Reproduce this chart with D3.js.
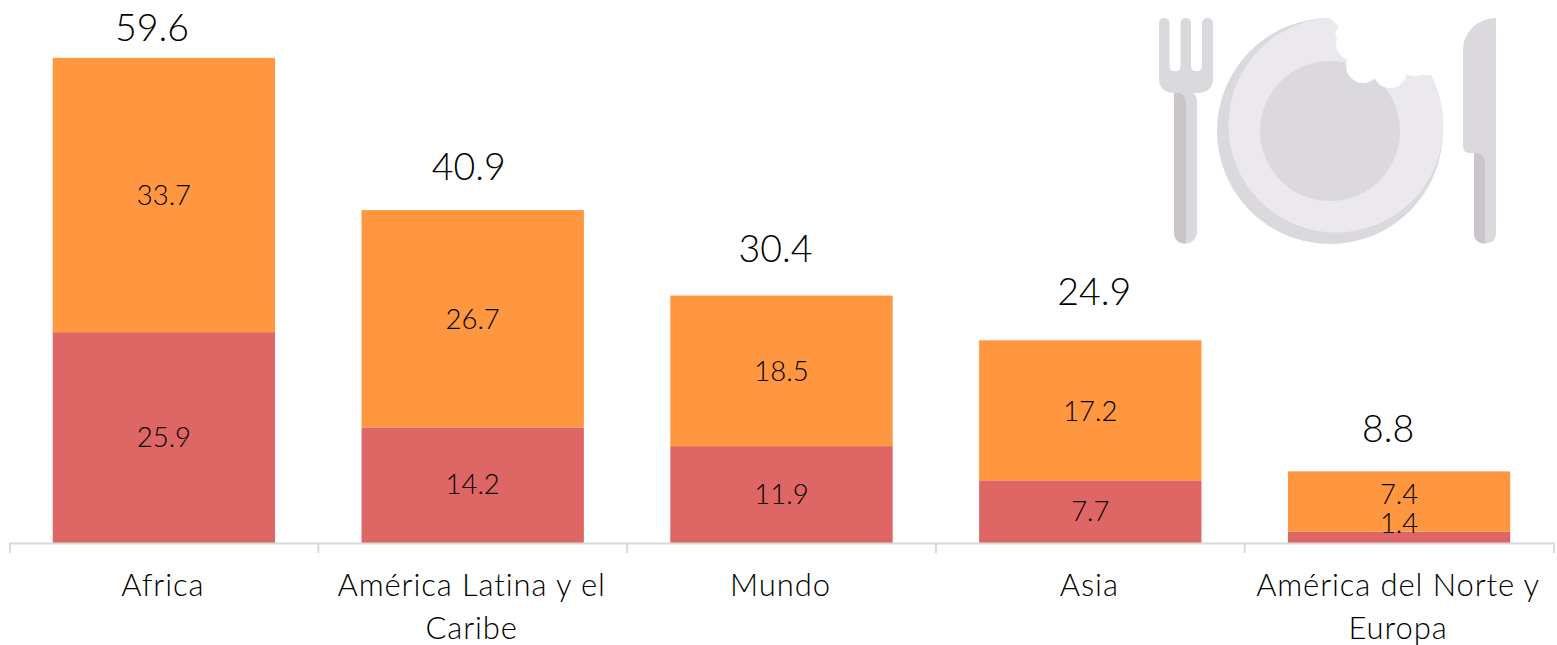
<!DOCTYPE html>
<html>
<head>
<meta charset="utf-8">
<script src="https://cdn.jsdelivr.net/npm/d3@7"></script>
<style>
    html, body { margin: 0; padding: 0; background: #fff; }
    svg { display: block; }
    text { font-family: Lato, "Noto Sans", sans-serif; fill: #000; }
</style>
</head>
<body>
<svg id="chart"></svg>
<script>
const categories = ['Africa', 'América Latina y el Caribe', 'Mundo', 'Asia', 'América del Norte y Europa'];
const categoryLines = [['Africa'], ['América Latina y el', 'Caribe'], ['Mundo'], ['Asia'], ['América del Norte y', 'Europa']];
const severe = [25.9, 14.2, 11.9, 7.7, 1.4];
const moderate = [33.7, 26.7, 18.5, 17.2, 7.4];
const totals = [59.6, 40.9, 30.4, 24.9, 8.8];

// hand placed labels in the original, offsets from the default spot
const totalNudgeX = [-12, -4, -6, 4, -11];
const totalNudgeY = [0, -14, -17, -19, -13];
const severeNudgeY = [0, -1, 0, -1, -14];
const moderateNudgeY = [0, 0, 0, 1, -7];

const width = 1557, height = 645;
const axisY = 543;
const colors = {severe: '#de6766', moderate: '#ff9640'};

const svg = d3.select('#chart').attr('width', width).attr('height', height);

const xScale = d3.scaleBand()
    .domain(categories)
    .range([9.5, 1553.5])
    .paddingInner(0.28)
    .paddingOuter(0.14);

const yScale = d3.scaleLinear()
    .domain([0, 60])
    .range([axisY, axisY - 60 * 8.14]);

const rows = categories.map((c, i) => ({category: c, index: i, severe: severe[i], moderate: moderate[i], total: totals[i]}));
const stacked = d3.stack().keys(['severe', 'moderate'])(rows);
const segNudge = {severe: severeNudgeY, moderate: moderateNudgeY};

// bars
svg.selectAll('g.layer')
    .data(stacked)
    .join('g')
    .attr('class', 'layer')
    .attr('fill', d => colors[d.key])
    .selectAll('rect')
    .data(d => d)
    .join('rect')
    .attr('x', d => xScale(d.data.category))
    .attr('y', d => yScale(d[1]))
    .attr('width', xScale.bandwidth())
    .attr('height', d => yScale(d[0]) - yScale(d[1]));

// x axis, the band edges carry the ticks
const xAxis = d3.axisBottom(xScale).tickSize(0).tickSizeOuter(10).tickFormat('');
const xAxisG = svg.append('g')
    .attr('transform', `translate(0,${axisY})`)
    .call(xAxis);
xAxisG.select('.domain').attr('stroke', '#d9d9d9').attr('stroke-width', 2);
xAxisG.selectAll('.tick').remove();
xAxisG.selectAll('line.edge')
    .data(categories.slice(1))
    .join('line')
    .attr('class', 'edge')
    .attr('x1', d => xScale(d) - xScale.step() * 0.14)
    .attr('x2', d => xScale(d) - xScale.step() * 0.14)
    .attr('y1', 0)
    .attr('y2', 10)
    .attr('stroke', '#d9d9d9')
    .attr('stroke-width', 2);

// labels inside the segments
svg.selectAll('g.seg-labels')
    .data(stacked)
    .join('g')
    .attr('class', 'seg-labels')
    .selectAll('text')
    .data(d => d.map(s => ({s: s, key: d.key})))
    .join('text')
    .attr('x', d => xScale(d.s.data.category) + xScale.bandwidth() / 2)
    .attr('y', d => yScale((d.s[0] + d.s[1]) / 2) + segNudge[d.key][d.s.data.index])
    .attr('dy', '0.36em')
    .attr('text-anchor', 'middle')
    .style('font-size', '27.5px')
    .style('font-weight', 300)
    .text(d => d.s.data[d.key].toFixed(1));

// totals above the bars
svg.selectAll('text.total')
    .data(rows)
    .join('text')
    .attr('class', 'total')
    .attr('x', d => xScale(d.category) + xScale.bandwidth() / 2 + totalNudgeX[d.index])
    .attr('y', d => yScale(d.total) - 30 + totalNudgeY[d.index])
    .attr('dy', '0.36em')
    .attr('text-anchor', 'middle')
    .style('font-size', '37.5px')
    .style('font-weight', 300)
    .text(d => d.total.toFixed(1));

svg.selectAll('text.cat')
    .data(categories)
    .join('text')
    .attr('class', 'cat')
    .attr('text-anchor', 'middle')
    .style('font-size', '31px')
    .style('font-weight', 300)
    .style('letter-spacing', '0.9px')
    .each(function(d, i) {
        d3.select(this).selectAll('tspan')
            .data(categoryLines[i])
            .join('tspan')
            .attr('x', xScale(d) + xScale.bandwidth() / 2 - 1)
            .attr('y', (l, j) => 596 + j * 43)
            .text(l => l);
    });

// plate and cutlery icon
const icon = svg.append('g');
const rounded = (x, y, w, h, r, fill) => icon.append('rect')
    .attr('x', x).attr('y', y).attr('width', w).attr('height', h).attr('rx', r).attr('fill', fill);

// fork
rounded(1159, 18, 10.5, 60, 5, '#dbd9dd');
rounded(1180.5, 18, 10.5, 60, 5, '#dbd9dd');
rounded(1202, 18, 11, 60, 5, '#dbd9dd');
icon.append('path')
    .attr('d', 'M1159 62H1213V78Q1213 93 1197 93H1175Q1159 93 1159 78Z')
    .attr('fill', '#dbd9dd');
icon.append('path')
    .attr('d', 'M1169.5 62V66Q1169.5 71 1174 71H1176.5Q1180.5 71 1180.5 66V62ZM1191 62V66Q1191 71 1195.5 71H1198Q1202 71 1202 66V62Z')
    .attr('fill', '#fff');
rounded(1174, 90, 23, 153.5, 11.5, '#dbd9dd');
icon.append('path')
    .attr('d', 'M1174 93H1177Q1186 93 1186 104V243.5Q1174 243.5 1174 232Z')
    .attr('fill', '#c9c5c9');

// plate
icon.append('circle').attr('cx', 1330).attr('cy', 131).attr('r', 113).attr('fill', '#dbd9dd');
icon.append('circle').attr('cx', 1336).attr('cy', 125).attr('r', 107.5).attr('fill', '#ebe9ed');
icon.append('circle').attr('cx', 1330).attr('cy', 131).attr('r', 70).attr('fill', '#dbd9dd');
// bite
icon.append('path')
    .attr('d', 'M1322 10L1338 26L1335 35L1350 60L1400 72L1427 75L1470 75L1470 0L1322 0Z')
    .attr('fill', '#fff');
icon.append('circle').attr('cx', 1352).attr('cy', 44).attr('r', 16).attr('fill', '#fff');
icon.append('circle').attr('cx', 1363).attr('cy', 66).attr('r', 17).attr('fill', '#fff');
icon.append('circle').attr('cx', 1390).attr('cy', 71).attr('r', 17).attr('fill', '#fff');
icon.append('circle').attr('cx', 1415).attr('cy', 58).attr('r', 18).attr('fill', '#fff');

// knife
icon.append('path')
    .attr('d', 'M1496 18V153H1469Q1463 153 1463 146V50C1463 32 1478 18 1496 18Z')
    .attr('fill', '#dbd9dd');
icon.append('path')
    .attr('d', 'M1474 150H1496V232Q1496 243.5 1485 243.5Q1474 243.5 1474 232Z')
    .attr('fill', '#dbd9dd');
icon.append('path')
    .attr('d', 'M1474 153H1476Q1485 153 1485 166V243.5Q1474 243.5 1474 232Z')
    .attr('fill', '#c9c5c9');
</script>
</body>
</html>
